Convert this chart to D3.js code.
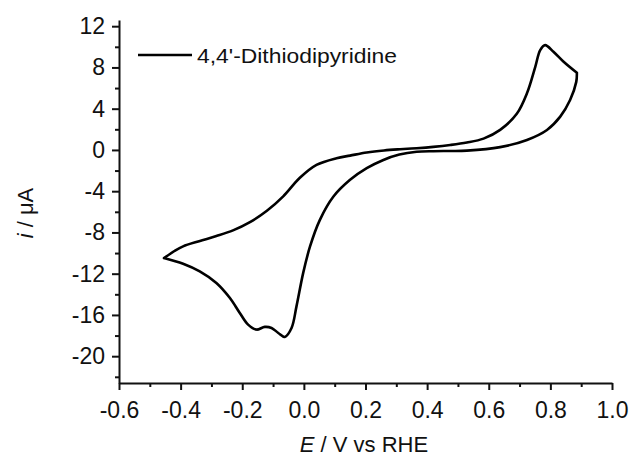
<!DOCTYPE html>
<html>
<head>
<meta charset="utf-8">
<script src="https://cdn.jsdelivr.net/npm/d3@7"></script>
<style>
  body { margin: 0; background: #fff; }
  text { font-family: Arial, "Liberation Sans", sans-serif; fill: #111; }
</style>
</head>
<body>
<div id="cv"></div>
<script>
/** Anodic sweep, left vertex to right vertex (V vs RHE, uA) */
var anodicPotential = [-0.454, -0.42, -0.392, -0.34, -0.284, -0.23, -0.175, -0.12, -0.067, -0.013,
  0.041, 0.106, 0.150, 0.204, 0.26, 0.312, 0.366, 0.420, 0.475, 0.529, 0.583, 0.637, 0.691,
  0.724, 0.751, 0.767, 0.783, 0.810, 0.843, 0.886];
var anodicCurrent = [-10.48, -9.8, -9.35, -8.85, -8.35, -7.8, -7.0, -5.9, -4.5, -2.7,
  -1.45, -0.8, -0.55, -0.25, -0.05, 0.07, 0.17, 0.3, 0.48, 0.72, 1.1, 1.95, 3.5,
  5.49, 8.06, 9.68, 10.16, 9.52, 8.55, 7.48];

/** Cathodic sweep, right vertex back to left vertex */
var cathodicPotential = [0.886, 0.884, 0.864, 0.832, 0.789, 0.724, 0.637, 0.529, 0.475, 0.42,
  0.366, 0.31, 0.258, 0.204, 0.15, 0.096, 0.052, 0.020, -0.002, -0.024, -0.040, -0.062,
  -0.083, -0.105, -0.127, -0.154, -0.181, -0.208, -0.240, -0.284, -0.338, -0.392, -0.454];
var cathodicCurrent = [7.48, 6.6, 4.84, 3.23, 1.94, 0.97, 0.27, -0.07, -0.1, -0.12,
  -0.18, -0.45, -0.97, -1.77, -2.9, -4.52, -6.78, -9.36, -11.9, -15.17, -17.26, -18.13,
  -17.75, -17.26, -17.16, -17.42, -16.94, -15.81, -14.36, -12.9, -11.78, -11.04, -10.48];

/** Axis ticks */
var xTicks = [-0.6, -0.4, -0.2, 0.0, 0.2, 0.4, 0.6, 0.8, 1.0];
var xMinorTicks = [-0.5, -0.3, -0.1, 0.1, 0.3, 0.5, 0.7, 0.9];
var yTicks = [-20, -16, -12, -8, -4, 0, 4, 8, 12];
var yMinorTicks = [-22, -18, -14, -10, -6, -2, 2, 6, 10];
var seriesName = "4,4'-Dithiodipyridine";

var svgWidth = 634, svgHeight = 457;
var plotLeft = 119, plotRight = 612, plotTop = 20, plotBottom = 383;

var svg = d3.select("#cv").append("svg")
  .attr("width", svgWidth)
  .attr("height", svgHeight);

var x = d3.scaleLinear().domain([-0.6, 1.0]).range([plotLeft, plotRight]);
var y = d3.scaleLinear().domain([-22.6, 12.6]).range([plotBottom, plotTop]);

/** Minor ticks first, so major axis draws on top */
svg.append("g")
  .attr("transform", "translate(0," + plotBottom + ")")
  .call(d3.axisBottom(x).tickValues(xMinorTicks).tickSize(4).tickSizeOuter(0).tickFormat(""))
  .call(function(g) { g.select(".domain").remove(); });
svg.append("g")
  .attr("transform", "translate(" + plotLeft + ",0)")
  .call(d3.axisLeft(y).tickValues(yMinorTicks).tickSize(4).tickSizeOuter(0).tickFormat(""))
  .call(function(g) { g.select(".domain").remove(); });

var xAxis = svg.append("g")
  .attr("transform", "translate(0," + plotBottom + ")")
  .call(d3.axisBottom(x).tickValues(xTicks).tickSize(7).tickSizeOuter(0).tickPadding(12)
    .tickFormat(d3.format(".1f")));
var yAxis = svg.append("g")
  .attr("transform", "translate(" + plotLeft + ",0)")
  .call(d3.axisLeft(y).tickValues(yTicks).tickSize(7).tickSizeOuter(0).tickPadding(7)
    .tickFormat(d3.format("d")));

svg.selectAll(".tick line").attr("stroke", "#111").attr("stroke-width", 2);
svg.selectAll(".domain").attr("stroke", "#111").attr("stroke-width", 2);
svg.selectAll(".tick text").style("font-size", "23px").attr("fill", "#111")
  .style("font-family", "Arial, 'Liberation Sans', sans-serif");
/** plain hyphen for negatives, as in the original */
xAxis.selectAll(".tick text").text(function(d) { return d.toFixed(1); });
yAxis.selectAll(".tick text").text(function(d) { return String(d); });

/** CV loop, drawn as two sweeps so the vertices stay sharp */
var line = d3.line()
  .x(function(d) { return x(d[0]); })
  .y(function(d) { return y(d[1]); })
  .curve(d3.curveCatmullRom.alpha(0.5));
var anodic = anodicPotential.map(function(e, k) { return [e, anodicCurrent[k]]; });
var cathodic = cathodicPotential.map(function(e, k) { return [e, cathodicCurrent[k]]; });

svg.append("path")
  .attr("d", line(anodic) + line(cathodic))
  .attr("fill", "none")
  .attr("stroke", "#000")
  .attr("stroke-width", 2.6)
  .attr("stroke-linejoin", "round")
  .attr("stroke-linecap", "round");

/** Legend */
svg.append("line")
  .attr("x1", 138).attr("x2", 192)
  .attr("y1", 55).attr("y2", 55)
  .attr("stroke", "#000").attr("stroke-width", 2.6);
svg.append("text")
  .attr("x", 197).attr("y", 63)
  .style("font-size", "20px")
  .attr("textLength", 200)
  .attr("lengthAdjust", "spacingAndGlyphs")
  .text(seriesName);

/** Axis titles */
var xTitle = svg.append("text")
  .attr("x", 364).attr("y", 452)
  .attr("text-anchor", "middle")
  .style("font-size", "22px");
xTitle.append("tspan").style("font-style", "italic").text("E");
xTitle.append("tspan").text(" / V vs RHE");

var yTitle = svg.append("text")
  .attr("transform", "translate(33,213) rotate(-90)")
  .attr("text-anchor", "middle")
  .style("font-size", "22px");
yTitle.append("tspan").style("font-style", "italic").text("i");
yTitle.append("tspan").text(" / \u03bcA");
</script>
</body>
</html>
